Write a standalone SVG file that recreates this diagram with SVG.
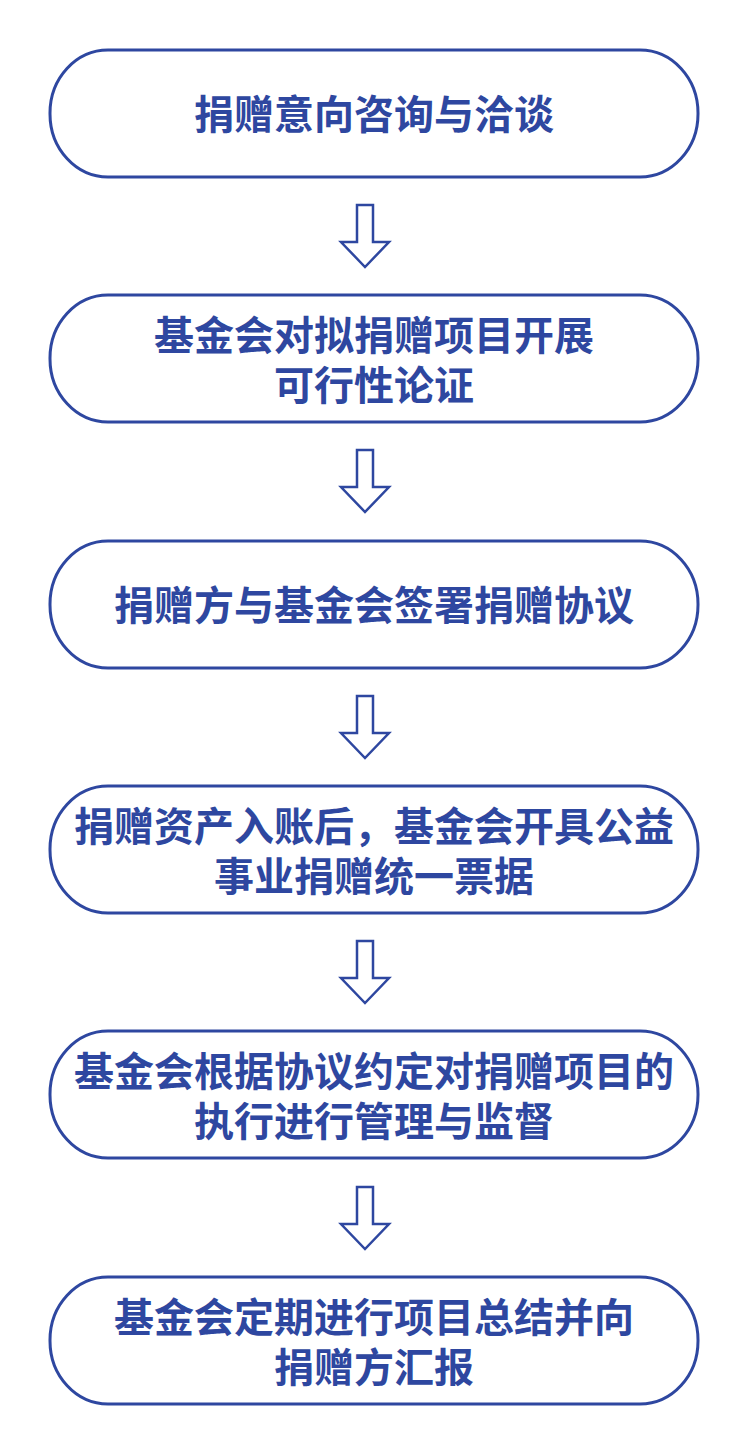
<svg xmlns="http://www.w3.org/2000/svg" width="748" height="1454" viewBox="0 0 748 1454">
<style>
.box{fill:#fff;stroke:#2E47A0;stroke-width:3}
.arr{fill:#fff;stroke:#2E47A0;stroke-width:2.5;stroke-linejoin:miter}
.t{font-family:"Noto Sans CJK SC","Noto Sans",sans-serif;font-weight:bold;font-size:40px;fill:#2E47A0;text-anchor:middle}
</style>
<defs>
<path id="a" class="arr" d="M357,0 H373 V37 H389 L365,62 L341,37 H357 Z"/>
</defs>
<rect width="748" height="1454" fill="#fff"/>
<g id="connectors">
<use href="#a" y="205"/>
<use href="#a" y="450"/>
<use href="#a" y="696"/>
<use href="#a" y="941"/>
<use href="#a" y="1187"/>
</g>
<g id="n1"><rect class="box" x="50" y="50" width="648" height="127" rx="58" ry="63"/><text class="t" x="374" y="129">捐赠意向咨询与洽谈</text></g>
<g id="n2"><rect class="box" x="50" y="295" width="648" height="127" rx="58" ry="63"/><text class="t"><tspan x="374" y="350">基金会对拟捐赠项目开展</tspan><tspan x="374" y="400">可行性论证</tspan></text></g>
<g id="n3"><rect class="box" x="50" y="541" width="648" height="127" rx="58" ry="63"/><text class="t" x="374" y="620">捐赠方与基金会签署捐赠协议</text></g>
<g id="n4"><rect class="box" x="50" y="786" width="648" height="127" rx="58" ry="63"/><text class="t"><tspan x="374" y="841">捐赠资产入账后，基金会开具公益</tspan><tspan x="374" y="891">事业捐赠统一票据</tspan></text></g>
<g id="n5"><rect class="box" x="50" y="1031" width="648" height="127" rx="58" ry="63"/><text class="t"><tspan x="374" y="1086">基金会根据协议约定对捐赠项目的</tspan><tspan x="374" y="1136">执行进行管理与监督</tspan></text></g>
<g id="n6"><rect class="box" x="50" y="1277" width="648" height="127" rx="58" ry="63"/><text class="t"><tspan x="374" y="1332">基金会定期进行项目总结并向</tspan><tspan x="374" y="1382">捐赠方汇报</tspan></text></g>
</svg>
